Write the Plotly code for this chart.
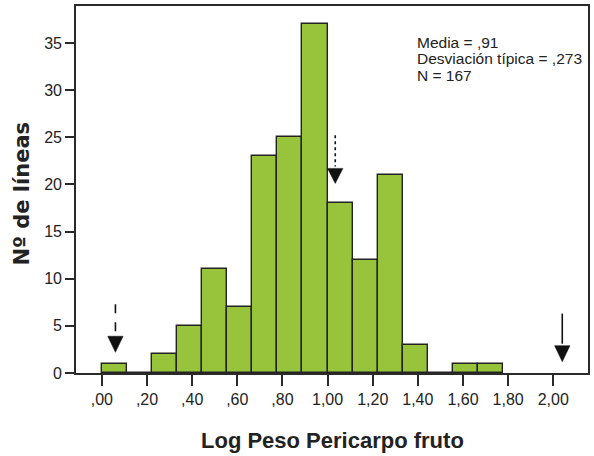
import plotly.graph_objects as go

# ---- data ----
bin_start = 0.0
bin_width = 1 / 9
counts = [1, 0, 2, 5, 11, 7, 23, 25, 37, 18, 12, 21, 3, 0, 1, 1]
x_tickvals = [0.0, 0.2, 0.4, 0.6, 0.8, 1.0, 1.2, 1.4, 1.6, 1.8, 2.0]
x_ticktext = [",00", ",20", ",40", ",60", ",80", "1,00", "1,20", "1,40", "1,60", "1,80", "2,00"]
y_tickvals = [0, 5, 10, 15, 20, 25, 30, 35]
stats_lines = ["Media = ,91", "Desviación típica = ,273", "N = 167"]
# arrow markers: x, tail y, head-top y, tip y, dash
arrow_x = [0.06, 1.034, 2.04]
arrow_tail = [7.3, 25.2, 6.3]
arrow_headtop = [3.9, 21.7, 2.9]
arrow_tip = [2.2, 20.1, 1.2]
arrow_dash = ["dash", "dot", "solid"]

centers = [bin_start + (i + 0.5) * bin_width for i in range(len(counts))]

SANS = "Liberation Sans, Arial, sans-serif"
LINE = "#2a2a2a"

fig = go.Figure()
fig.add_trace(go.Bar(
    x=centers, y=counts, width=[bin_width] * len(counts),
    marker=dict(color="#98C43B", line=dict(color="#222222", width=1.4)),
    hoverinfo="skip",
))

shapes = []
hw = 0.034
for x, t, h, tip, d in zip(arrow_x, arrow_tail, arrow_headtop, arrow_tip, arrow_dash):
    shapes.append(dict(type="line", xref="x", yref="y", x0=x, x1=x, y0=t, y1=h + 0.2,
                       line=dict(color="#111111", width=1.6, dash=d)))
    shapes.append(dict(type="path", xref="x", yref="y",
                       path=f"M {x-hw},{h} L {x+hw},{h} L {x},{tip} Z",
                       fillcolor="#111111", line=dict(color="#111111", width=0.5)))

annotations = []
for i, s in enumerate(stats_lines):
    annotations.append(dict(text=s, xref="paper", yref="paper", x=0.664, y=1, xanchor="left",
                            yanchor="middle", yshift=-36 - 16.5 * i, showarrow=False,
                            borderpad=0,
                            font=dict(family=SANS, size=15.5, color="#222222")))
annotations.append(dict(text="Log Peso Pericarpo fruto", xref="paper", yref="paper", x=0.5, y=0,
                        xanchor="center", yanchor="middle", yshift=-67, showarrow=False,
                        font=dict(family=SANS, size=22, color="#222222", weight="bold")))
annotations.append(dict(text="Nº de líneas", xref="paper", yref="paper", x=0, y=0.5, textangle=-90,
                        xanchor="center", yanchor="middle", xshift=-55, yshift=-4, showarrow=False,
                        font=dict(family="DejaVu Sans, sans-serif", size=21, color="#222222",
                                  weight="bold")))

fig.update_layout(
    width=594, height=456,
    margin=dict(l=76, r=4, t=6, b=83),
    paper_bgcolor="white", plot_bgcolor="white",
    showlegend=False, bargap=0,
    shapes=shapes, annotations=annotations,
    xaxis=dict(range=[-0.1147, 2.154], tickvals=x_tickvals, ticktext=x_ticktext,
               ticks="outside", ticklen=11, tickwidth=1.6, tickcolor=LINE,
               showline=True, linecolor=LINE, linewidth=1.6, mirror=True,
               showgrid=False, zeroline=False,
               tickfont=dict(family=SANS, size=16, color="#222222")),
    yaxis=dict(range=[0, 38.92], tickvals=y_tickvals,
               ticks="outside", ticklen=9, tickwidth=1.6, tickcolor=LINE,
               showline=True, linecolor=LINE, linewidth=1.6, mirror=True,
               showgrid=False, zeroline=False,
               tickfont=dict(family=SANS, size=16, color="#222222")),
)

fig.write_html("out.html")
